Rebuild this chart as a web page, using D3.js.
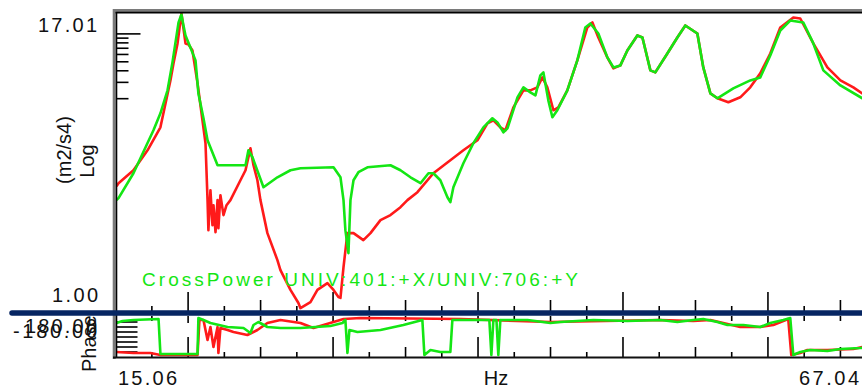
<!DOCTYPE html>
<meta charset="utf-8">
<script src="https://cdn.jsdelivr.net/npm/d3@7/dist/d3.min.js"></script>
<style>
body { margin: 0; background: #fff; }
text { font-family: "Liberation Sans", Arial, sans-serif; fill: #111; }
.mag, .pha { fill: none; stroke-width: 2.6; stroke-linejoin: round; }
.red { stroke: #ff1a1a; }
.green { stroke: #14e614; }
.tick { stroke: #000; stroke-width: 1.6; }
</style>
<svg width="862" height="389"></svg>
<script>

// axis ranges and labels
var freqRange = [15.06, 67.04];
var freqLabels = ["15.06", "Hz", "67.04"];
var magRange = [0.01, 17.01];
var magLabels = ["17.01", "1.00"];
var magMinor = [10, 9, 8, 7, 6, 5, 4, 3, 2];
var phaseRange = [-180, 180];
var phaseLabels = ["180.00", "-180.00"];
var phaseTicks = [-135, -90, -45, 0, 45, 90, 135];
var legendText = "CrossPower UNIV:401:+X/UNIV:706:+Y";

// magnitude [Hz, m2/s4]
var redMag = [[15.06,0.227],[15.20,0.245],[16.23,0.338],[17.20,0.555],[18.09,0.982],[18.78,3.15],[18.99,4.80],
  [19.27,7.89],[19.54,16.6],[19.82,7.89],[20.03,7.69],[20.30,6.63],[20.65,2.93],[20.99,1.17],[21.20,0.661],
  [21.34,0.161],[21.40,0.0764],[21.54,0.206],[21.68,0.0865],[21.75,0.142],[21.89,0.0727],[22.03,0.161],
  [22.09,0.0803],[22.23,0.182],[22.44,0.111],[22.65,0.142],[22.92,0.161],[23.61,0.264],[23.96,0.338],
  [24.30,0.584],[24.51,0.383],[24.78,0.264],[24.99,0.161],[25.47,0.0709],[26.16,0.0363],[26.37,0.0283],
  [27.06,0.0173],[27.61,0.0125],[27.75,0.0110],[28.44,0.0128],[28.92,0.0173],[29.61,0.0205],[30.03,0.0173],
  [30.37,0.0145],[30.51,0.0142],[30.72,0.0305],[30.99,0.0709],[31.41,0.0709],[32.09,0.0596],[32.58,0.0709],
  [33.27,0.0979],[33.96,0.111],[34.65,0.135],[35.13,0.161],[35.82,0.196],[36.92,0.314],[38.09,0.434],
  [38.99,0.555],[39.96,0.712],[40.65,1.085],[41.06,1.17],[41.54,0.982],[41.89,0.912],[42.44,1.61],
  [43.13,2.46],[43.61,2.46],[44.09,2.65],[44.44,3.39],[44.78,2.65],[45.20,1.50],[45.54,1.61],[46.16,2.46],
  [46.85,5.18],[47.54,11.73],[47.89,13.27],[48.30,9.15],[48.92,5.58],[49.34,4.24],[49.82,4.57],[50.30,6.63],
  [50.99,9.62],[51.34,9.15],[51.89,4.04],[52.23,3.84],[53.06,6.15],[53.75,9.15],[54.30,12.32],[55.13,10.1],
  [55.54,4.35],[56.03,2.28],[56.51,2.02],[57.27,1.83],[58.09,2.07],[58.78,2.65],[59.47,3.75],[60.16,6.15],
  [60.85,11.73],[61.75,15.0],[62.23,14.66],[63.13,7.89],[64.10,4.35],[65.00,3.15],[65.89,2.65],[66.51,2.28],
  [67.04,2.07]];

var greenMag = [[15.06,0.161],[15.20,0.169],[16.23,0.314],[17.61,0.912],[18.09,1.39],[18.58,2.46],[18.92,4.93],
  [19.13,8.09],[19.34,13.27],[19.54,16.19],[19.68,12.32],[19.82,9.62],[20.16,7.14],[20.51,5.18],[20.71,2.28],
  [21.06,1.23],[21.34,0.712],[22.03,0.383],[22.92,0.383],[23.96,0.383],[24.16,0.555],[24.44,0.467],
  [25.20,0.222],[26.16,0.284],[27.06,0.338],[27.75,0.355],[30.03,0.364],[30.51,0.284],[30.72,0.161],
  [30.85,0.0764],[31.06,0.0432],[31.20,0.161],[31.41,0.264],[31.75,0.322],[32.37,0.364],[33.96,0.383],
  [34.65,0.338],[35.34,0.284],[36.03,0.245],[36.58,0.314],[36.92,0.314],[37.40,0.264],[37.89,0.173],
  [38.09,0.153],[38.30,0.222],[38.99,0.402],[39.68,0.661],[40.37,0.982],[40.99,1.23],[41.34,1.11],
  [41.75,0.868],[42.03,0.958],[42.72,2.07],[43.13,2.65],[43.61,2.34],[43.96,2.17],[44.30,3.57],[44.51,3.84],
  [44.85,1.92],[45.13,1.26],[45.47,1.50],[46.16,2.46],[46.85,5.18],[47.40,11.73],[47.75,12.95],[48.30,10.1],
  [48.92,5.58],[49.34,4.35],[49.82,4.57],[50.30,6.63],[50.99,9.62],[51.34,9.15],[51.89,4.04],[52.23,3.84],
  [53.06,6.15],[53.75,9.15],[54.30,12.32],[55.13,10.1],[55.54,4.35],[56.03,2.28],[56.51,2.02],[57.61,2.58],
  [58.78,3.15],[59.47,3.39],[60.16,5.86],[60.85,10.89],[61.54,13.95],[62.44,13.27],[63.13,7.89],[63.82,4.04],
  [65.00,2.78],[66.51,2.02],[67.04,1.87]];

// phase [Hz, deg]
var redPhase = [[15.06,-135],[16.23,-144],[17.40,-144],[18.09,-162],[20.65,-162],[20.78,153],[21.06,153],
  [21.34,-27],[21.54,90],[21.75,-90],[22.03,90],[22.09,-144],[22.23,81],[22.72,63],[23.13,45],[24.09,18],
  [24.78,63],[25.47,126],[26.37,153],[27.75,126],[28.65,81],[29.34,108],[30.03,135],[30.72,162],[31.89,171],
  [38.78,162],[44.99,135],[52.58,153],[54.85,144],[56.03,153],[56.92,126],[58.09,90],[59.47,90],[60.37,108],
  [61.40,162],[61.61,-162],[62.23,-144],[62.72,-117],[64.10,-117],[65.89,-108],[66.51,-90],[67.04,-81]];

var greenPhase = [[15.06,126],[15.47,144],[16.23,153],[17.96,162],[18.09,-153],[20.65,-153],[20.71,171],
  [21.06,153],[21.54,126],[22.72,90],[23.82,81],[24.30,36],[24.51,108],[24.85,135],[25.47,90],[26.37,81],
  [27.75,81],[29.82,99],[30.65,126],[30.85,153],[30.99,-144],[31.13,63],[31.68,45],[33.27,63],[34.85,108],
  [36.16,153],[36.30,-162],[36.72,-117],[37.40,-135],[38.09,-135],[38.23,153],[39.27,153],[40.78,153],
  [40.92,-162],[41.06,153],[41.27,153],[41.40,-162],[41.54,153],[43.41,153],[44.99,126],[45.68,135],
  [47.96,153],[50.30,144],[52.58,153],[53.75,135],[54.85,153],[55.54,162],[56.51,135],[57.20,108],
  [58.30,108],[59.47,90],[60.16,126],[61.06,153],[61.54,171],[61.75,-162],[62.23,-135],[62.92,-117],
  [64.10,-126],[65.00,-108],[66.37,-99],[67.04,-90]];

var svg = d3.select("svg");

var left = 116.5, right = 870,
    magTop = 12.5, magBottom = 312,
    phaTop = 317, phaBottom = 357;

var x = d3.scaleLinear().domain(freqRange).range([left, right]);
var yMag = d3.scaleLog().domain(magRange).range([magBottom, magTop]);
var yPha = d3.scaleLinear().domain(phaseRange).range([phaBottom, phaTop]);

var defs = svg.append("defs");
defs.append("clipPath").attr("id", "clipMag").append("rect")
    .attr("x", left).attr("y", magTop).attr("width", right - left).attr("height", magBottom - magTop);
defs.append("clipPath").attr("id", "clipPha").append("rect")
    .attr("x", left).attr("y", phaTop - 1).attr("width", right - left).attr("height", phaBottom - phaTop + 1);

// x ticks (2.5 Hz steps, long at 10, medium at 5)
var xTicks = d3.range(17.5, 67, 2.5);
function tickLen(f, l, m, s) {
    if (Math.abs(f % 10) < 1e-6) return l;
    if (Math.abs(f % 5) < 1e-6) return m;
    return s;
}
var ticks = svg.append("g");
xTicks.forEach(function(f) {
    ticks.append("line").attr("class", "tick")
        .attr("x1", x(f)).attr("x2", x(f))
        .attr("y1", magBottom).attr("y2", magBottom - tickLen(f, 20, 12, 6));
    ticks.append("line").attr("class", "tick")
        .attr("x1", x(f)).attr("x2", x(f))
        .attr("y1", phaBottom).attr("y2", phaBottom - tickLen(f, 20, 10, 5));
    ticks.append("line").attr("class", "tick")
        .attr("x1", x(f)).attr("x2", x(f))
        .attr("y1", phaTop - 1).attr("y2", phaTop - 1 + tickLen(f, 7, 5, 5));
});

// log ticks on the left
magMinor.forEach(function(v, i) {
    ticks.append("line").attr("class", "tick")
        .attr("x1", left).attr("x2", left + (i == 0 ? 24 : 12))
        .attr("y1", yMag(v)).attr("y2", yMag(v));
});
phaseTicks.forEach(function(v) {
    ticks.append("line").attr("class", "tick")
        .attr("x1", left).attr("x2", left + 21)
        .attr("y1", yPha(v)).attr("y2", yPha(v));
});

// curves
var magLine = d3.line().x(function(d) { return x(d[0]); }).y(function(d) { return yMag(d[1]); });
var phaLine = d3.line().x(function(d) { return x(d[0]); }).y(function(d) { return yPha(d[1]); });

var gm = svg.append("g").attr("clip-path", "url(#clipMag)");
gm.append("path").attr("class", "mag red").attr("d", magLine(redMag));
gm.append("path").attr("class", "mag green").attr("d", magLine(greenMag));

var gp = svg.append("g").attr("clip-path", "url(#clipPha)");
gp.append("path").attr("class", "pha red").attr("d", phaLine(redPhase));
gp.append("path").attr("class", "pha green").attr("d", phaLine(greenPhase));

// frame
svg.append("line").attr("x1", 113).attr("x2", 862).attr("y1", 10.5).attr("y2", 10.5)
    .attr("stroke", "#7a7a7a").attr("stroke-width", 3);
svg.append("line").attr("x1", 115).attr("x2", 862).attr("y1", 12.6).attr("y2", 12.6)
    .attr("stroke", "#000").attr("stroke-width", 1.6);
svg.append("line").attr("x1", 114.2).attr("x2", 114.2).attr("y1", 9).attr("y2", 359)
    .attr("stroke", "#7a7a7a").attr("stroke-width", 3);
svg.append("line").attr("x1", 116.5).attr("x2", 116.5).attr("y1", 12).attr("y2", 358)
    .attr("stroke", "#000").attr("stroke-width", 1.6);
svg.append("line").attr("x1", 113).attr("x2", 862).attr("y1", phaBottom + 0.5).attr("y2", phaBottom + 0.5)
    .attr("stroke", "#111").attr("stroke-width", 1.8);

// separator bar
svg.append("line").attr("x1", 12).attr("x2", 870).attr("y1", 313).attr("y2", 313)
    .attr("stroke", "#062562").attr("stroke-width", 5.5).attr("stroke-linecap", "round");

// labels
function label(t, xp, yp, anchor, w) {
    var el = svg.append("text").attr("x", xp).attr("y", yp)
        .attr("text-anchor", anchor).attr("font-size", 20).text(t);
    if (w) el.attr("textLength", w).attr("lengthAdjust", "spacing");
    return el;
}
label(magLabels[0], 97, 32, "end", 59);
label(magLabels[1], 98, 302, "end", 46);
label(phaseLabels[0], 97, 333, "end", 72);
label(phaseLabels[1], 97, 338, "end", 84);
label(freqLabels[0], 118, 385, "start", 59);
label(freqLabels[1], 496, 385, "middle");
label(freqLabels[2], 859, 385, "end", 60);

svg.append("text").attr("transform", "translate(94,161) rotate(-90)")
    .attr("text-anchor", "middle").attr("font-size", 20).text("Log");
svg.append("text").attr("transform", "translate(71,150) rotate(-90)")
    .attr("text-anchor", "middle").attr("font-size", 20).text("(m2/s4)");
svg.append("text").attr("transform", "translate(96,372) rotate(-90)")
    .attr("text-anchor", "start").attr("font-size", 20).text("Phase");

svg.append("text").attr("x", 142).attr("y", 286)
    .attr("font-size", 19).attr("textLength", 436).attr("lengthAdjust", "spacing")
    .style("fill", "#14e614").text(legendText);

</script>
